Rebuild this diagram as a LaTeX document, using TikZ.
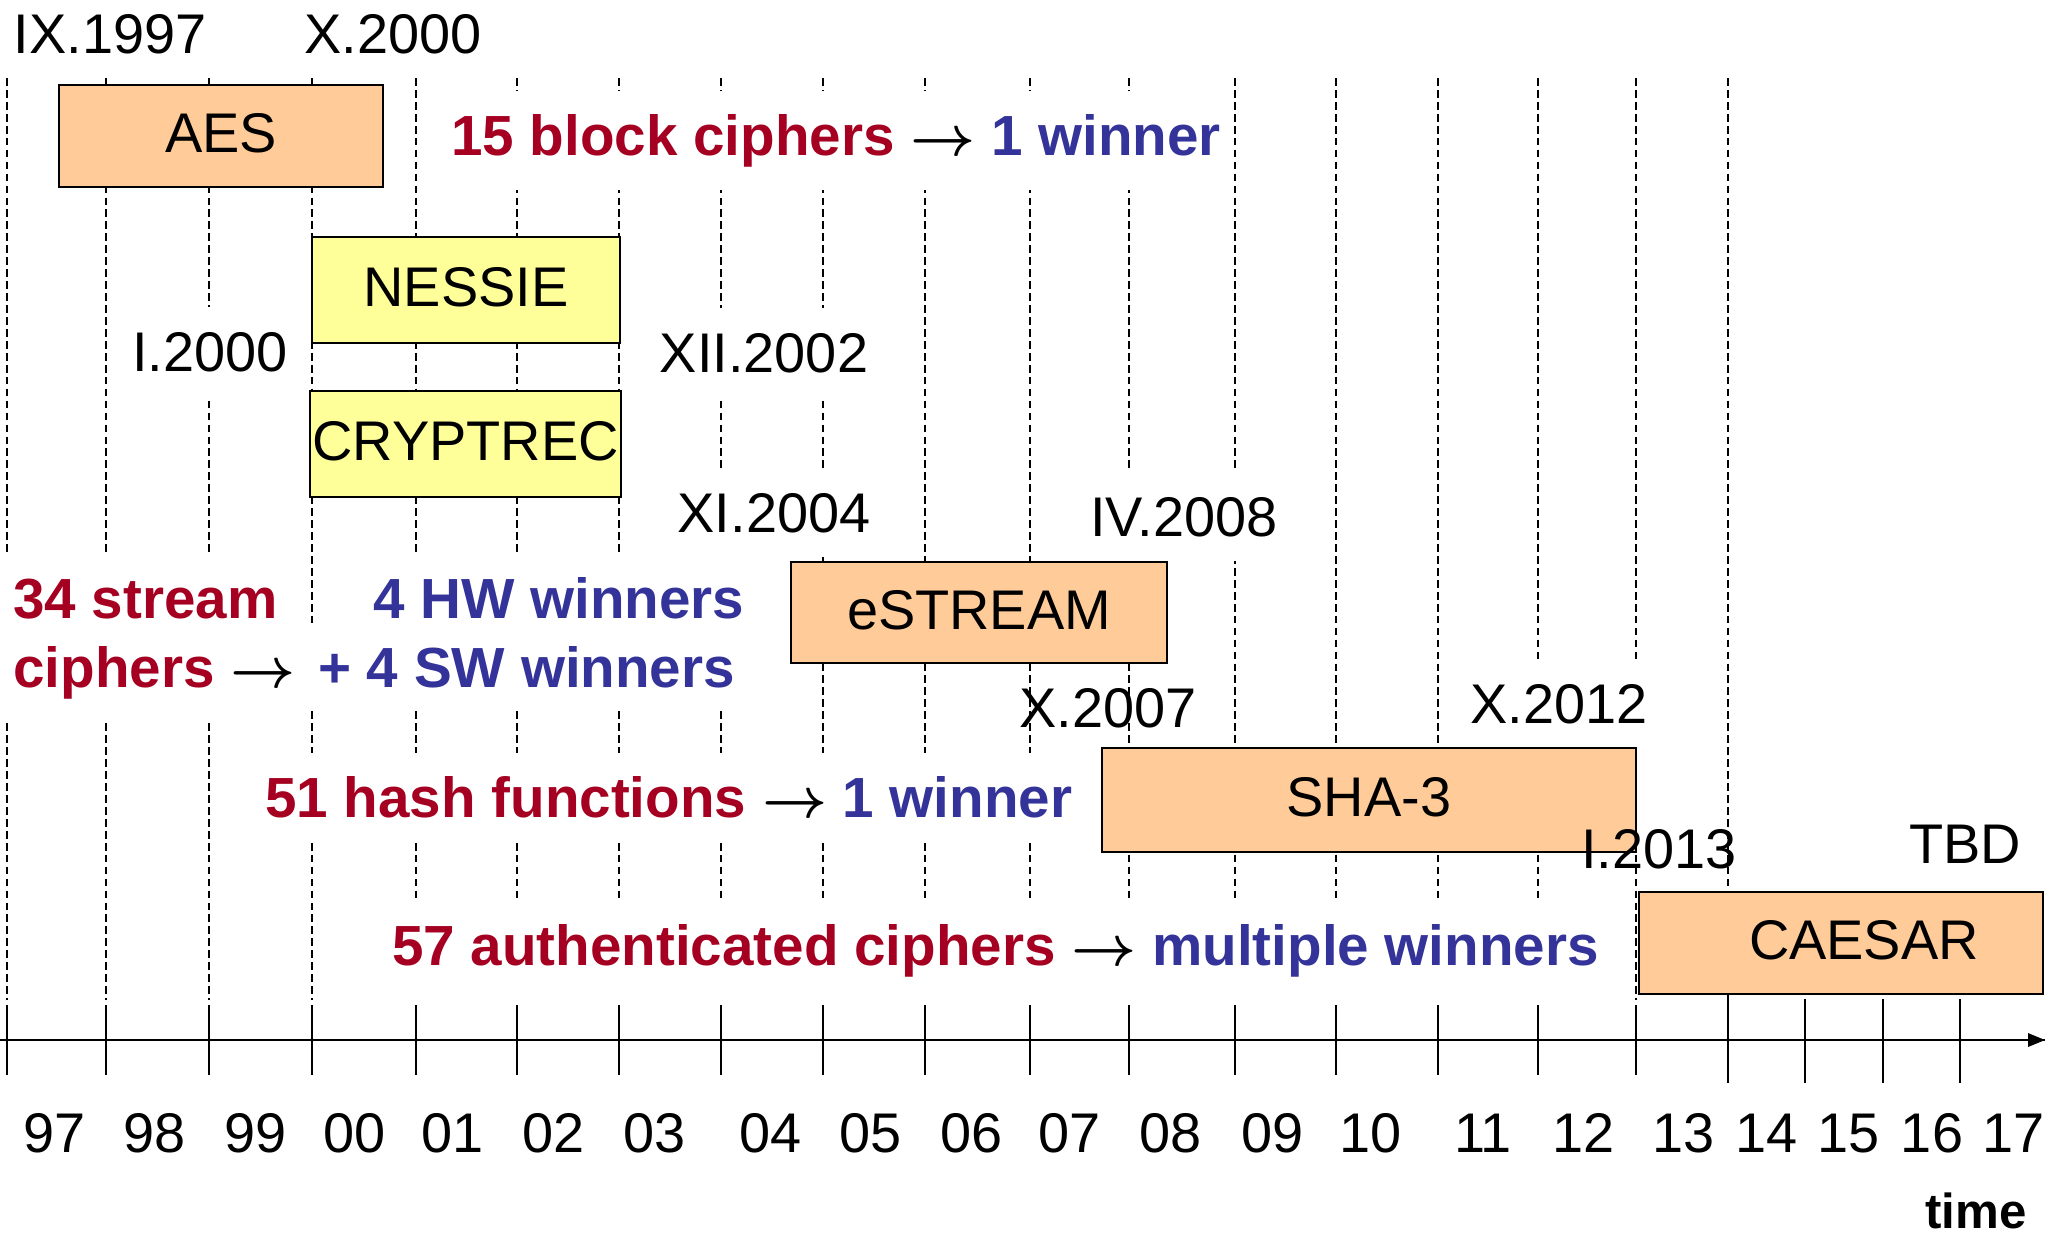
\documentclass[tikz,border=0pt]{standalone}
\usepackage{fix-cm}
\usepackage{fontspec}
\setmainfont{Liberation Sans}
\definecolor{peach}{HTML}{FFCC99}
\definecolor{paleyellow}{HTML}{FFFF99}
\definecolor{winered}{HTML}{A50021}
\definecolor{indigo}{HTML}{333399}
\newcommand{\slidefont}{\fontsize{15.9}{19.6}\selectfont}
\newcommand{\tallyarrow}{{\boldmath$\rightarrow$}}
\begin{document}
\begin{tikzpicture}[x=0.1mm, y=-0.1mm,
  gridline/.style={black, line width=0.4pt, dash pattern=on 2.2pt off 1.2pt},
  tickline/.style={black, line width=0.6pt},
  stage/.style={draw=black, line width=0.5pt, inner sep=0pt, minimum height=10.2mm, text depth=0.15em, font=\slidefont},
  peachbox/.style={stage, fill=peach},
  yellowbox/.style={stage, fill=paleyellow},
  datelabel/.style={anchor=base, inner sep=0pt, font=\slidefont},
  masked/.style={datelabel, fill=white, inner xsep=4pt, inner ysep=7pt},
  tally/.style={anchor=base west, fill=white, inner xsep=3pt, inner ysep=6.5pt, font=\fontsize{16.1}{19.6}\selectfont\bfseries},
  yearlabel/.style={anchor=base, inner sep=0pt, font=\slidefont}]
\useasboundingbox (0,0) rectangle (2049,1233);
% dashed year lines and ticks
\draw [gridline] (7,78) -- (7,1000);       \draw [tickline] (7,1005) -- (7,1075);
\draw [gridline] (106,78) -- (106,1000);   \draw [tickline] (106,1005) -- (106,1075);
\draw [gridline] (209,78) -- (209,1000);   \draw [tickline] (209,1005) -- (209,1075);
\draw [gridline] (312,78) -- (312,1000);   \draw [tickline] (312,1005) -- (312,1075);
\draw [gridline] (416,78) -- (416,1000);   \draw [tickline] (416,1005) -- (416,1075);
\draw [gridline] (517,78) -- (517,1000);   \draw [tickline] (517,1005) -- (517,1075);
\draw [gridline] (619,78) -- (619,1000);   \draw [tickline] (619,1005) -- (619,1075);
\draw [gridline] (721,78) -- (721,1000);   \draw [tickline] (721,1005) -- (721,1075);
\draw [gridline] (823,78) -- (823,1000);   \draw [tickline] (823,1005) -- (823,1075);
\draw [gridline] (925,78) -- (925,1000);   \draw [tickline] (925,1005) -- (925,1075);
\draw [gridline] (1030,78) -- (1030,1000); \draw [tickline] (1030,1005) -- (1030,1075);
\draw [gridline] (1129,78) -- (1129,1000); \draw [tickline] (1129,1005) -- (1129,1075);
\draw [gridline] (1235,78) -- (1235,1000); \draw [tickline] (1235,1005) -- (1235,1075);
\draw [gridline] (1336,78) -- (1336,1000); \draw [tickline] (1336,1005) -- (1336,1075);
\draw [gridline] (1438,78) -- (1438,1000); \draw [tickline] (1438,1005) -- (1438,1075);
\draw [gridline] (1538,78) -- (1538,1000); \draw [tickline] (1538,1005) -- (1538,1075);
\draw [gridline] (1636,78) -- (1636,1000); \draw [tickline] (1636,1005) -- (1636,1075);
\draw [gridline] (1728,78) -- (1728,892);  \draw [tickline] (1728,994) -- (1728,1083);
\draw [tickline] (1805,999) -- (1805,1083);
\draw [tickline] (1883,999) -- (1883,1083);
\draw [tickline] (1960,999) -- (1960,1083);
% time axis
\coordinate (axisstart) at (0,1040);
\coordinate (axisend) at (2045,1040);
\draw [tickline] (axisstart) -- (axisend);
\fill [black] (axisend) -- (2028,1033) -- (2028,1047) -- cycle;
% dates that hide the lines
\node [masked] (jan2000) at (210,371) {I.2000};
\node [masked] (dec2002) at (764,372) {XII.2002};
\node [masked] (nov2004) at (774,532) {XI.2004};
\node [masked] (apr2008) at (1184,536) {IV.2008};
\node [masked] (oct2012) at (1559,723) {X.2012};
% counts of candidates and winners
\node [tally] (blockline) at (440,155) {{\color{winered}15 block ciphers} \tallyarrow{} {\color{indigo}1 winner}};
\node [tally] (streamtop) at (2,618) {\color{winered}34 stream};
\node [tally] (streambot) at (2,687) {{\color{winered}ciphers} \tallyarrow};
\node [tally] (hwline) at (362,618) {\color{indigo}4 HW winners};
\node [tally] (swline) at (307,687) {\color{indigo}+ 4 SW winners};
\node [tally] (hashline) at (254,817) {{\color{winered}51 hash functions} \tallyarrow{} {\color{indigo}1 winner}};
\node [tally] (aeline) at (381,965) {{\color{winered}57 authenticated ciphers} \tallyarrow{} {\color{indigo}multiple winners}};
% competitions
\node [peachbox, minimum width=32.4mm] (aes) at (221,136) {AES};
\node [yellowbox, minimum width=30.8mm, minimum height=10.6mm] (nessie) at (466,290) {NESSIE};
\node [yellowbox, minimum width=31.1mm, minimum height=10.6mm] (cryptrec) at (465.5,444) {CRYPTREC};
\node [peachbox, minimum width=37.6mm, minimum height=10.1mm] (estream) at (979,612.5) {eSTREAM};
\node [peachbox, minimum width=53.4mm, minimum height=10.4mm] (sha) at (1369,800) {SHA-3};
\node [peachbox, minimum width=40.4mm] (caesar) at (1841,943) {\hspace*{4.6mm}CAESAR};
% dates on top
\node [datelabel] (sep1997) at (110,53) {IX.1997};
\node [datelabel] (oct2000) at (393,53) {X.2000};
\node [datelabel] (oct2007) at (1108,727) {X.2007};
\node [datelabel] (jan2013) at (1659,868) {I.2013};
\node [datelabel] (tbd) at (1965,863) {TBD};
% years
\node [yearlabel] (y97) at (55,1152) {97};
\node [yearlabel] (y98) at (155,1152) {98};
\node [yearlabel] (y99) at (256,1152) {99};
\node [yearlabel] (y00) at (355,1152) {00};
\node [yearlabel] (y01) at (453,1152) {01};
\node [yearlabel] (y02) at (554,1152) {02};
\node [yearlabel] (y03) at (655,1152) {03};
\node [yearlabel] (y04) at (771,1152) {04};
\node [yearlabel] (y05) at (871,1152) {05};
\node [yearlabel] (y06) at (972,1152) {06};
\node [yearlabel] (y07) at (1070,1152) {07};
\node [yearlabel] (y08) at (1171,1152) {08};
\node [yearlabel] (y09) at (1273,1152) {09};
\node [yearlabel] (y10) at (1371,1152) {10};
\node [yearlabel] (y11) at (1483,1152) {11};
\node [yearlabel] (y12) at (1584,1152) {12};
\node [yearlabel] (y13) at (1684,1152) {13};
\node [yearlabel] (y14) at (1767,1152) {14};
\node [yearlabel] (y15) at (1849,1152) {15};
\node [yearlabel] (y16) at (1932,1152) {16};
\node [yearlabel] (y17) at (2014,1152) {17};
\node [yearlabel, font=\fontsize{14}{17}\selectfont\bfseries] (timelabel) at (1976,1228) {time};
\end{tikzpicture}
\end{document}
